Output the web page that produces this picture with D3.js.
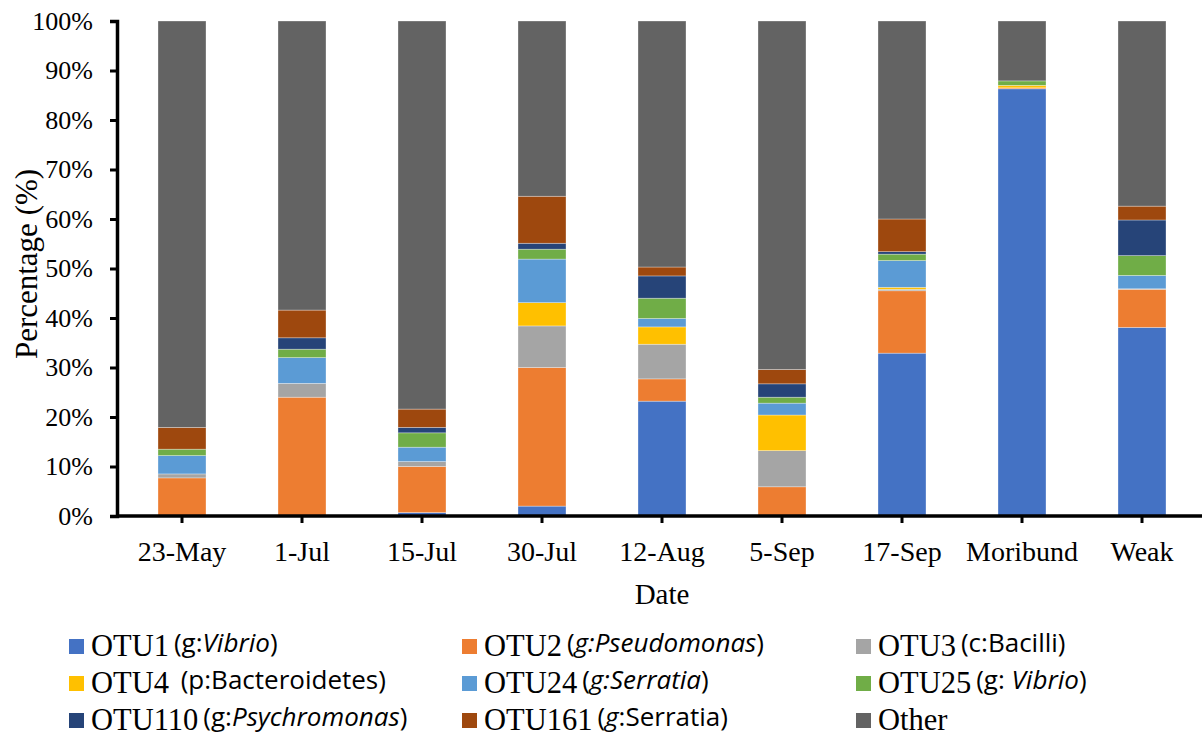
<!DOCTYPE html>
<html>
<head>
<meta charset="utf-8">
<script src="https://cdn.jsdelivr.net/npm/d3@7/dist/d3.min.js"></script>
<style>
  html, body { margin: 0; padding: 0; background: #fff; }
  svg { display: block; }
</style>
</head>
<body>
<svg id="chart" width="1204" height="738"></svg>
<script>
// ---- Data (percent of reads) ----
const categories = ["23-May", "1-Jul", "15-Jul", "30-Jul", "12-Aug", "5-Sep", "17-Sep", "Moribund", "Weak"];
const otu1   = [0,    0,    0.7,  2.0,  23.2, 0,    32.9, 86.3, 38.1];
const otu2   = [7.7,  24.0, 9.3,  28.0, 4.5,  5.9,  12.6, 0.2,  7.7];
const otu3   = [0.8,  2.8,  1.0,  8.4,  7.0,  7.3,  0.3,  0,    0.1];
const otu4   = [0,    0,    0,    4.7,  3.5,  7.2,  0.4,  0.5,  0];
const otu24  = [3.7,  5.2,  2.9,  8.8,  1.7,  2.4,  5.4,  0,    2.7];
const otu25  = [1.3,  1.7,  2.9,  2.0,  4.1,  1.2,  1.3,  0.9,  4.0];
const otu110 = [0,    2.3,  1.1,  1.2,  4.5,  2.7,  0.5,  0,    7.2];
const otu161 = [4.4,  5.6,  3.7,  9.5,  1.8,  2.9,  6.6,  0,    2.8];
const other  = [82.1, 58.4, 78.4, 35.4, 49.7, 70.4, 40.0, 12.1, 37.4];

const seriesKeys = ["OTU1", "OTU2", "OTU3", "OTU4", "OTU24", "OTU25", "OTU110", "OTU161", "Other"];
const seriesValues = [otu1, otu2, otu3, otu4, otu24, otu25, otu110, otu161, other];
const seriesColors = ["#4472C4", "#ED7D31", "#A5A5A5", "#FFC000", "#5B9BD5", "#70AD47", "#264478", "#9E480E", "#636363"];
const yTicks = [0, 10, 20, 30, 40, 50, 60, 70, 80, 90, 100];

// legend descriptions: [text, italic?] parts
const legendDesc = [
  [["(g:", false], ["Vibrio", true], [")", false]],
  [["(", false], ["g:Pseudomonas", true], [")", false]],
  [["(c:Bacilli)", false]],
  [["\u00A0(p:Bacteroidetes)", false]],
  [["(", false], ["g:Serratia", true], [")", false]],
  [["(g: ", false], ["Vibrio", true], [")", false]],
  [["(g:", false], ["Psychromonas", true], [")", false]],
  [["(", false], ["g", true], [":Serratia)", false]],
  []
];

// ---- Build table ----
const table = categories.map((c, i) => {
  const row = { cat: c };
  seriesKeys.forEach((k, j) => { row[k] = seriesValues[j][i]; });
  return row;
});
const stacked = d3.stack().keys(seriesKeys)(table);

const svg = d3.select("#chart");

const x = d3.scaleBand().domain(categories).range([122, 1202]).paddingInner(0.6).paddingOuter(0.3);
const y = d3.scaleLinear().domain([0, 100]).range([516, 21]);
const color = d3.scaleOrdinal().domain(seriesKeys).range(seriesColors);

// bars
svg.append("g").selectAll("g")
  .data(stacked)
  .join("g")
  .attr("fill", d => color(d.key))
  .selectAll("rect")
  .data(d => d.map(v => ({ v, key: d.key })))
  .join("rect")
  .attr("x", d => x(d.v.data.cat))
  .attr("width", x.bandwidth())
  .attr("y", d => y(d.v[1]))
  .attr("height", d => Math.max(0, y(d.v[0]) - y(d.v[1])))
  .attr("stroke", "#ffffff")
  .attr("stroke-opacity", 0.45)
  .attr("stroke-width", 0.7);

// y axis
const yAxis = d3.axisLeft(y).tickValues(yTicks).tickFormat(d => d + "%").tickSize(7).tickPadding(17);
const gy = svg.append("g").attr("transform", "translate(117,0)").call(yAxis);
gy.select(".domain").attr("stroke", "#000").attr("stroke-width", 3.5);
gy.selectAll(".tick line").attr("stroke", "#000").attr("stroke-width", 3);
gy.selectAll(".tick text")
  .attr("font-family", "'Liberation Serif', 'Times New Roman', serif")
  .attr("font-size", 26)
  .attr("fill", "#000");

// x axis
const xAxis = d3.axisBottom(x).tickSize(7).tickPadding(18);
const gx = svg.append("g").attr("transform", "translate(0,516)").call(xAxis);
gx.select(".domain").attr("d", "M117,0H1202").attr("stroke", "#000").attr("stroke-width", 3.5);
gx.selectAll(".tick line").attr("stroke", "#000").attr("stroke-width", 3);
gx.selectAll(".tick text")
  .attr("font-family", "'Liberation Serif', 'Times New Roman', serif")
  .attr("font-size", 28)
  .attr("fill", "#000");

// axis titles
svg.append("text")
  .attr("transform", "translate(37,264) rotate(-90)")
  .attr("text-anchor", "middle")
  .attr("font-family", "'Liberation Serif', 'Times New Roman', serif")
  .attr("font-size", 31)
  .attr("fill", "#000")
  .text("Percentage (%)");

svg.append("text")
  .attr("x", 662).attr("y", 604)
  .attr("text-anchor", "middle")
  .attr("font-family", "'Liberation Serif', 'Times New Roman', serif")
  .attr("font-size", 29)
  .attr("fill", "#000")
  .text("Date");

// legend
const colX = [69, 462, 856];
const rowY = [656, 693, 730];
const leg = svg.append("g").selectAll("g")
  .data(seriesKeys.map((k, i) => ({ k, i })))
  .join("g")
  .attr("transform", d => `translate(${colX[d.i % 3]},${rowY[Math.floor(d.i / 3)]})`);

leg.append("rect")
  .attr("x", 0).attr("y", -17)
  .attr("width", 15).attr("height", 15)
  .attr("fill", d => color(d.k));

const lt = leg.append("text")
  .attr("x", 22).attr("y", 0)
  .attr("font-family", "'Liberation Serif', 'Times New Roman', serif")
  .attr("font-size", 30.5)
  .attr("fill", "#000");
lt.append("tspan").text(d => d.k);
lt.each(function(d) {
  const t = d3.select(this);
  legendDesc[d.i].forEach((p, j) => {
    t.append("tspan")
      .attr("font-family", "'Open Sans', 'Liberation Sans', sans-serif")
      .attr("font-size", 26)
      .attr("font-style", p[1] ? "italic" : "normal")
      .attr("dx", j === 0 ? 5 : null)
      .attr("dy", j === 0 ? -4 : null)
      .text(p[0]);
  });
});
</script>
</body>
</html>
